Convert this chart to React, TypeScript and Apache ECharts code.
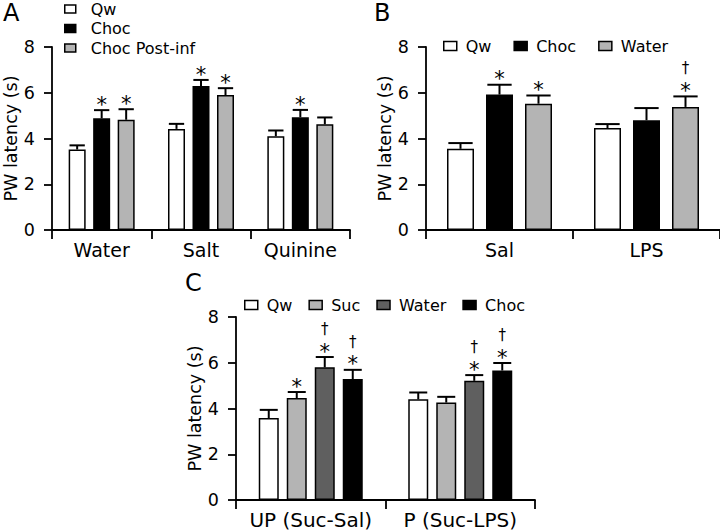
import React, { useEffect, useRef } from "react";
import * as echarts from "echarts";

// ---------- data ----------
const catA = ["Water", "Salt", "Quinine"];
const aQw = [3.52, 4.42, 4.1];
const aQwErr = [3.7, 4.64, 4.35];
const aChoc = [4.88, 6.3, 4.93];
const aChocErr = [5.24, 6.56, 5.25];
const aPost = [4.82, 5.9, 4.62];
const aPostErr = [5.28, 6.2, 4.92];
const aQwStar = ["", "", ""];
const aChocStar = ["*", "*", "*"];
const aPostStar = ["*", "*", ""];

const catB = ["Sal", "LPS"];
const bQw = [3.55, 4.46];
const bQwErr = [3.8, 4.63];
const bChoc = [5.92, 4.8];
const bChocErr = [6.35, 5.33];
const bWater = [5.52, 5.38];
const bWaterErr = [5.88, 5.84];
const bQwStar = ["", ""];
const bChocStar = ["*", ""];
const bWaterStar = ["*", "*"];
const bWaterDagger = ["", "†"];

const catC = ["UP (Suc-Sal)", "P (Suc-LPS)"];
const cQw = [3.58, 4.4];
const cQwErr = [3.94, 4.7];
const cSuc = [4.46, 4.26];
const cSucErr = [4.72, 4.51];
const cWater = [5.8, 5.21];
const cWaterErr = [6.25, 5.46];
const cChoc = [5.29, 5.66];
const cChocErr = [5.69, 5.99];
const cQwStar = ["", ""];
const cSucStar = ["*", ""];
const cWaterStar = ["*", "*"];
const cWaterDagger = ["†", "†"];
const cChocStar = ["*", "*"];
const cChocDagger = ["†", "†"];

const yTicks = [0, 2, 4, 6, 8];

// ---------- styles ----------
const FONT = "DejaVu Sans";
const WHITE = "#ffffff";
const BLACK = "#000000";
const GRAY = "#b4b4b4";
const DARK = "#5f5f5f";

export default function App() {
  const ref = useRef<HTMLDivElement>(null);

  useEffect(() => {
    if (!ref.current) return;
    const chart = echarts.init(ref.current, null, { renderer: "svg" });

    const series: any[] = [];

    function addGroup(
      gi: number,
      cats: string[],
      defs: { name: string; color: string; vals: number[]; errs: number[]; stars: string[]; daggers?: string[] }[],
      bw: number,
      gapPx: number
    ) {
      const n = defs.length;
      defs.forEach((d, k) => {
        series.push({
          type: "bar",
          name: d.name,
          xAxisIndex: gi,
          yAxisIndex: gi,
          barWidth: bw,
          barGap: (gapPx / bw) * 100 + "%",
          data: d.vals,
          itemStyle: { color: d.color, borderColor: BLACK, borderWidth: 1.5 },
          z: 2,
        });
        const edata = cats.map((_, i) => [i, d.vals[i], d.errs[i], d.stars[i] ? 1 : 0, d.daggers && d.daggers[i] ? 1 : 0]);
        series.push({
          type: "custom",
          name: "err" + gi + "_" + k,
          xAxisIndex: gi,
          yAxisIndex: gi,
          z: 3,
          data: edata,
          renderItem: (params: any, api: any) => {
            const ci = api.value(0);
            const mean = api.value(1);
            const top = api.value(2);
            const hasStar = api.value(3);
            const hasDag = api.value(4);
            const p0 = api.coord([ci, mean]);
            const p1 = api.coord([ci, top]);
            const x = p0[0] + (k - (n - 1) / 2) * (bw + gapPx);
            const half = bw * 0.45;
            const children: any[] = [
              { type: "line", shape: { x1: x, y1: p0[1], x2: x, y2: p1[1] }, style: { stroke: BLACK, lineWidth: 2 } },
              { type: "line", shape: { x1: x - half, y1: p1[1], x2: x + half, y2: p1[1] }, style: { stroke: BLACK, lineWidth: 2 } },
            ];
            const starCenter = p1[1] - 10;
            if (hasStar) {
              children.push({
                type: "text",
                style: { text: "*", x: x, y: starCenter + 4.6, align: "center", verticalAlign: "middle", fontSize: 21, fontFamily: FONT, fill: BLACK },
              });
            }
            if (hasDag) {
              children.push({
                type: "text",
                style: { text: "†", x: x, y: starCenter - 18, align: "center", verticalAlign: "middle", fontSize: 15, fontFamily: FONT, fill: BLACK },
              });
            }
            return { type: "group", children };
          },
        });
      });
    }

    addGroup(0, catA, [
      { name: "Qw", color: WHITE, vals: aQw, errs: aQwErr, stars: aQwStar },
      { name: "Choc", color: BLACK, vals: aChoc, errs: aChocErr, stars: aChocStar },
      { name: "Choc Post-inf", color: GRAY, vals: aPost, errs: aPostErr, stars: aPostStar },
    ], 17, 7.5);

    addGroup(1, catB, [
      { name: "Qw", color: WHITE, vals: bQw, errs: bQwErr, stars: bQwStar },
      { name: "Choc", color: BLACK, vals: bChoc, errs: bChocErr, stars: bChocStar },
      { name: "Water", color: GRAY, vals: bWater, errs: bWaterErr, stars: bWaterStar, daggers: bWaterDagger },
    ], 27, 12);

    addGroup(2, catC, [
      { name: "Qw", color: WHITE, vals: cQw, errs: cQwErr, stars: cQwStar },
      { name: "Suc", color: GRAY, vals: cSuc, errs: cSucErr, stars: cSucStar },
      { name: "Water", color: DARK, vals: cWater, errs: cWaterErr, stars: cWaterStar, daggers: cWaterDagger },
      { name: "Choc", color: BLACK, vals: cChoc, errs: cChocErr, stars: cChocStar, daggers: cChocDagger },
    ], 20, 8);

    const grids = [
      { left: 52, top: 47, width: 298, height: 183 },
      { left: 426, top: 47, width: 294, height: 183 },
      { left: 236, top: 317, width: 299, height: 183 },
    ];
    const cats = [catA, catB, catC];
    const xFont = [19, 19, 20];

    const xAxis = cats.map((c, i) => ({
      type: "category",
      gridIndex: i,
      data: c,
      axisLine: { show: true, lineStyle: { color: BLACK, width: 1.8 } },
      axisTick: { show: true, length: 9, lineStyle: { color: BLACK, width: 1.8 } },
      axisLabel: { fontSize: xFont[i], fontFamily: FONT, color: BLACK, margin: 10, interval: 0 },
      splitLine: { show: false },
    }));

    const yAxis = cats.map((_, i) => ({
      type: "value",
      gridIndex: i,
      min: yTicks[0],
      max: yTicks[yTicks.length - 1],
      interval: 2,
      name: "PW latency (s)",
      nameLocation: "middle",
      nameGap: 31,
      nameTextStyle: { fontSize: 17.5, fontFamily: FONT, color: BLACK },
      axisLine: { show: true, lineStyle: { color: BLACK, width: 1.8 } },
      axisTick: { show: true, length: 8, lineStyle: { color: BLACK, width: 1.8 } },
      axisLabel: { fontSize: 17.5, fontFamily: FONT, color: BLACK, margin: 17 },
      splitLine: { show: false },
    }));

    const legText = (padLeft: number) => ({
      fontSize: 16,
      fontFamily: FONT,
      color: BLACK,
      lineHeight: 16,
      padding: [0, 0, 0, padLeft],
    });

    const legendBase = {
      icon: "rect",
      padding: 0,
      itemWidth: 13,
      itemHeight: 9,
      itemStyle: { borderColor: BLACK, borderWidth: 1.5 },
      selectedMode: false,
    };

    const legend = [
      {
        ...legendBase,
        orient: "vertical",
        left: 64,
        top: 1,
        itemGap: 3.5,
        itemWidth: 11,
        itemHeight: 8,
        textStyle: legText(10),
        data: [
          { name: "Qw", itemStyle: { color: WHITE } },
          { name: "Choc", itemStyle: { color: BLACK } },
          { name: "Choc Post-inf", itemStyle: { color: GRAY } },
        ],
      },
      {
        ...legendBase,
        orient: "horizontal",
        left: 443,
        top: 38,
        itemGap: 22,
        textStyle: legText(4),
        data: [
          { name: "Qw", itemStyle: { color: WHITE } },
          { name: "Choc", itemStyle: { color: BLACK } },
          { name: "Water", itemStyle: { color: GRAY } },
        ],
      },
      {
        ...legendBase,
        orient: "horizontal",
        left: 244,
        top: 297,
        itemGap: 16,
        textStyle: legText(4),
        data: [
          { name: "Qw", itemStyle: { color: WHITE } },
          { name: "Suc", itemStyle: { color: GRAY } },
          { name: "Water", itemStyle: { color: DARK } },
          { name: "Choc", itemStyle: { color: BLACK } },
        ],
      },
    ];

    const letter = (t: string, x: number, y: number) => ({
      type: "text",
      left: x,
      top: y,
      style: { text: t, fontSize: 24, fontFamily: FONT, fill: BLACK },
    });

    chart.setOption({
      animation: false,
      backgroundColor: "#ffffff",
      grid: grids,
      xAxis,
      yAxis,
      legend,
      series,
      graphic: [letter("A", 3, 1), letter("B", 374, 1), letter("C", 185, 271)],
    });

    return () => chart.dispose();
  }, []);

  return <div ref={ref} style={{ position: "fixed", left: 0, top: 0, width: 720, height: 531 }} />;
}
